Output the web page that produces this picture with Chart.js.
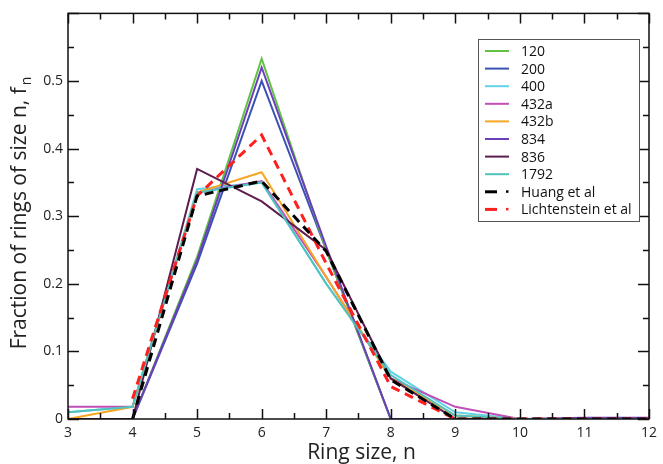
<!DOCTYPE html>
<html>
<head>
<meta charset="utf-8">
<script src="https://cdn.jsdelivr.net/npm/chart.js@4/dist/chart.umd.min.js"></script>
<style>
  html, body { margin: 0; padding: 0; background: #fff; }
  #wrap { width: 663px; height: 464px; }
</style>
</head>
<body>
<div id="wrap"><canvas id="chart" width="663" height="464"></canvas></div>
<script>
const ringSize = [3, 4, 5, 6, 7, 8, 9, 10, 11, 12];

const s120   = [0, 0, 0.24, 0.533, 0.25, 0, 0, 0, 0, 0];
const s200   = [0, 0, 0.23, 0.50, 0.25, 0, 0, 0, 0, 0];
const s400   = [0.01, 0.018, 0.34, 0.35, 0.20, 0.07, 0.01, 0, 0, 0];
const s432a  = [0.018, 0.018, 0.335, 0.352, 0.21, 0.06, 0.018, 0, 0, 0];
const s432b  = [0, 0.018, 0.335, 0.365, 0.21, 0.06, 0.005, 0, 0, 0];
const s834   = [0, 0, 0.235, 0.52, 0.255, 0, 0, 0, 0.002, 0.002];
const s836   = [0, 0, 0.37, 0.322, 0.25, 0.06, 0, 0, 0, 0];
const s1792  = [0.01, 0.018, 0.335, 0.35, 0.20, 0.065, 0.005, 0, 0, 0];
const huang  = [null, 0, 0.33, 0.352, 0.248, 0.058, 0, 0, 0, 0];
const licht  = [null, 0.03, 0.33, 0.42, 0.23, 0.048, 0, 0, 0, 0];

const yTicks = [0, 0.1, 0.2, 0.3, 0.4, 0.5];

const FONT = "'Open Sans', 'Noto Sans', sans-serif";

function series(label, data, color, dashed) {
    return {
        label,
        data: ringSize.map((x, i) => ({ x, y: data[i] })),
        borderColor: color,
        backgroundColor: color,
        borderWidth: dashed ? 3 : 2,
        borderDash: dashed ? [9, 6] : [],
        pointRadius: 0,
        tension: 0,
        spanGaps: false,
        dashed
    };
}

const datasets = [
    series("120", s120, "#62c244", false),
    series("200", s200, "#3b52b4", false),
    series("400", s400, "#62d2e6", false),
    series("432a", s432a, "#c04fb8", false),
    series("432b", s432b, "#f6a623", false),
    series("834", s834, "#6b3fba", false),
    series("836", s836, "#5c1d4e", false),
    series("1792", s1792, "#4fc3bd", false),
    series("Huang et al", huang, "#000000", true),
    series("Lichtenstein et al", licht, "#ff1f1f", true)
];

// dashed lines on top
datasets.forEach((d, i) => { d.order = d.dashed ? 0 : 10 - i; });
datasets[0].order = 9;
datasets[5].order = 5;

const frame = {
    id: "frame",
    afterDatasetsDraw(chart) {
        const ctx = chart.ctx;
        const a = chart.chartArea;
        const xs = chart.scales.x, ys = chart.scales.y;
        ctx.save();
        ctx.strokeStyle = "#111";
        ctx.lineWidth = 1.5;
        ctx.strokeRect(a.left, a.top, a.right - a.left, a.bottom - a.top);

        ctx.beginPath();
        for (let v = 3; v <= 12.001; v += 0.5) {
            const px = Math.round(xs.getPixelForValue(v)) + 0.5;
            const len = Number.isInteger(v) ? 10 : 6;
            ctx.moveTo(px, a.bottom); ctx.lineTo(px, a.bottom - len);
            ctx.moveTo(px, a.top); ctx.lineTo(px, a.top + len);
        }
        for (let k = 0; k <= 12; k++) {
            const v = k * 0.05;
            const py = Math.round(ys.getPixelForValue(v)) + 0.5;
            const len = k % 2 === 0 ? 11 : 6;
            ctx.moveTo(a.left, py); ctx.lineTo(a.left + len, py);
            ctx.moveTo(a.right, py); ctx.lineTo(a.right - len, py);
        }
        ctx.stroke();

        // axis titles
        ctx.fillStyle = "#222";
        ctx.font = "21px " + FONT;
        ctx.textAlign = "center";
        ctx.textBaseline = "alphabetic";
        ctx.fillText("Ring size, n", (a.left + a.right) / 2 + 3, 459);

        ctx.save();
        ctx.translate(26, 0);
        ctx.rotate(-Math.PI / 2);
        const main = "Fraction of rings of size n, f";
        ctx.font = "21px " + FONT;
        const w1 = ctx.measureText(main).width;
        ctx.font = "14px " + FONT;
        const w2 = ctx.measureText("n").width;
        const total = w1 + 2 + w2;
        const cy = 213;
        let start = -(cy + total / 2);
        ctx.textAlign = "left";
        ctx.font = "21px " + FONT;
        ctx.fillText(main, start, 0);
        ctx.font = "14px " + FONT;
        ctx.fillText("n", start + w1 + 2, 5);
        ctx.restore();

        // legend box
        const bx = 478, by = 39, bw = 161, bh = 182;
        ctx.fillStyle = "#fff";
        ctx.fillRect(bx, by, bw, bh);
        ctx.strokeStyle = "#555";
        ctx.lineWidth = 1;
        ctx.strokeRect(bx + 0.5, by + 0.5, bw, bh);
        ctx.font = "14px " + FONT;
        ctx.textAlign = "left";
        ctx.textBaseline = "middle";
        chart.data.datasets.forEach((d, i) => {
            const yy = 51 + i * 17.6;
            ctx.strokeStyle = d.borderColor;
            ctx.fillStyle = d.borderColor;
            if (d.dashed) {
                ctx.lineWidth = 3;
                ctx.beginPath();
                ctx.moveTo(485, yy); ctx.lineTo(497, yy);
                ctx.stroke();
                ctx.fillRect(506, yy - 1.5, 2.5, 2.5);
            } else {
                ctx.lineWidth = 2;
                ctx.beginPath();
                ctx.moveTo(485, yy); ctx.lineTo(509, yy);
                ctx.stroke();
            }
            ctx.fillStyle = "#111";
            ctx.fillText(d.label, 521, yy + 1);
        });
        ctx.restore();
    }
};

new Chart(document.getElementById("chart"), {
    type: "line",
    data: { datasets },
    options: {
        responsive: false,
        animation: false,
        layout: { padding: { top: 10, right: 8, left: 0, bottom: 0 } },
        plugins: {
            legend: { display: false },
            tooltip: { enabled: false }
        },
        scales: {
            x: {
                type: "linear",
                min: 3,
                max: 12,
                grid: { display: false, drawTicks: false },
                border: { display: false },
                ticks: {
                    stepSize: 1,
                    padding: 6,
                    color: "#222",
                    font: { size: 14, family: FONT }
                },
                afterFit(scale) { scale.height = 45; }
            },
            y: {
                min: 0,
                max: 0.6,
                grid: { display: false, drawTicks: false },
                border: { display: false },
                afterBuildTicks(scale) {
                    scale.ticks = yTicks.map(v => ({ value: v }));
                },
                ticks: {
                    padding: 5,
                    color: "#222",
                    font: { size: 14, family: FONT },
                    callback: v => String(Math.round(v * 10) / 10)
                },
                afterFit(scale) { scale.width = 68; }
            }
        }
    },
    plugins: [frame]
});
</script>
</body>
</html>
